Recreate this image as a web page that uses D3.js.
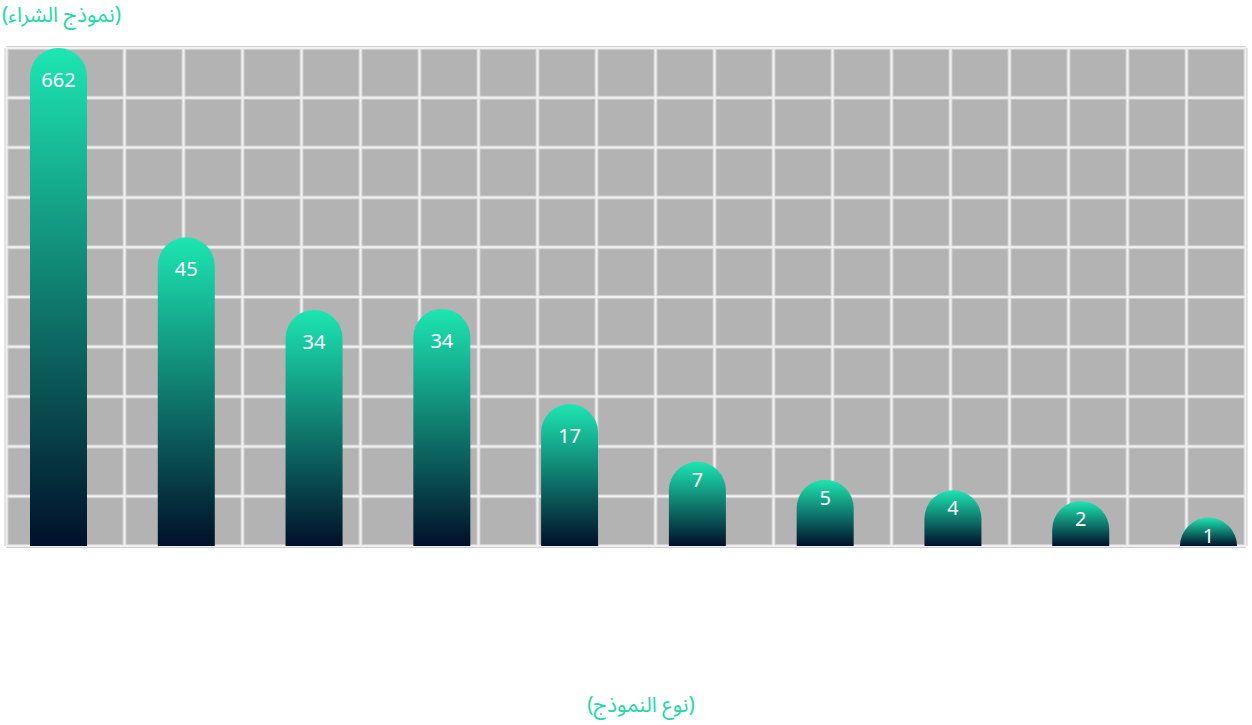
<!DOCTYPE html>
<html>
<head>
<meta charset="utf-8">
<script src="https://cdn.jsdelivr.net/npm/d3@7"></script>
<style>
  html, body { margin: 0; padding: 0; background: #ffffff; }
  svg { display: block; }
</style>
</head>
<body>
<svg id="chart" width="1252" height="725"></svg>
<script>
// ---- data ----
const categories = ["1", "2", "3", "4", "5", "6", "7", "8", "9", "10"];
const labelValues = [662, 45, 34, 34, 17, 7, 5, 4, 2, 1];
// bar heights as read on the hidden value axis (0–10 grid units)
const barHeights = [10.0, 6.2, 4.74, 4.76, 2.85, 1.69, 1.33, 1.12, 0.9, 0.57];
const yTicks = [0, 1, 2, 3, 4, 5, 6, 7, 8, 9, 10];
const xGridCount = 21;
const yTitle = "(نموذج الشراء)";
const xTitle = "(نوع النموذج)";

// ---- layout ----
const W = 1252, H = 725;
const plot = { left: 6.5, right: 1245.5, top: 48, bottom: 546 };
const barW = 57;

const svg = d3.select("#chart");

const x = d3.scalePoint().domain(categories).range([58.5, 1208.5]);
const y = d3.scaleLinear().domain([0, 10]).range([plot.bottom, plot.top]);
const xGrid = d3.scaleLinear().domain([0, xGridCount]).range([plot.left, plot.right]);

const defs = svg.append("defs");
const grad = defs.append("linearGradient")
  .attr("id", "barGrad").attr("x1", 0).attr("y1", 0).attr("x2", 0).attr("y2", 1);
grad.append("stop").attr("offset", "0%").attr("stop-color", "#1de6b2");
grad.append("stop").attr("offset", "100%").attr("stop-color", "#01102a");

// plot background
svg.append("rect")
  .attr("x", plot.left).attr("y", plot.top)
  .attr("width", plot.right - plot.left).attr("height", plot.bottom - plot.top)
  .attr("fill", "#b3b3b3");

// grid
const grid = svg.append("g");
const xs = d3.range(xGridCount + 1);
[["#cfcfcf", 4], ["#f0f0f0", 2]].forEach(([c, w]) => {
  grid.selectAll(null).data(yTicks).enter().append("line")
    .attr("x1", plot.left).attr("x2", plot.right)
    .attr("y1", d => y(d)).attr("y2", d => y(d))
    .attr("stroke", c).attr("stroke-width", w);
  grid.selectAll(null).data(xs).enter().append("line")
    .attr("y1", plot.top).attr("y2", plot.bottom)
    .attr("x1", d => xGrid(d)).attr("x2", d => xGrid(d))
    .attr("stroke", c).attr("stroke-width", w);
});

// bars with rounded tops
function barPath(cx, top, bottom) {
  const r = barW / 2;
  const h = bottom - top;
  const ry = Math.min(r, h);
  const x0 = cx - r, x1 = cx + r;
  return `M${x0},${bottom} L${x0},${top + ry} A${r},${ry} 0 0 1 ${x1},${top + ry} L${x1},${bottom} Z`;
}

const data = categories.map((c, i) => ({ c, v: labelValues[i], h: barHeights[i] }));

svg.append("g").selectAll("path").data(data).enter().append("path")
  .attr("d", d => barPath(x(d.c), y(d.h), y(0)))
  .attr("fill", "url(#barGrad)");

svg.append("g").selectAll("text").data(data).enter().append("text")
  .attr("x", d => x(d.c))
  .attr("y", d => {
    const top = y(d.h), h = y(0) - top;
    return top + (h >= 120 ? 32 : 18);
  })
  .attr("dy", "0.36em")
  .attr("text-anchor", "middle")
  .attr("fill", "#ffffff")
  .attr("font-family", "'Noto Sans', 'Open Sans', sans-serif")
  .attr("font-size", 20)
  .text(d => d.v);

// axis titles
const arFont = "'Noto Sans Arabic', 'Noto Sans', 'DejaVu Sans', sans-serif";
svg.append("text")
  .attr("x", 2).attr("y", 15).attr("dy", "0.35em")
  .attr("text-anchor", "start")
  .attr("fill", "#1ed9a8")
  .attr("font-family", arFont).attr("font-size", 21)
  .text(yTitle);

svg.append("text")
  .attr("x", 641).attr("y", 705).attr("dy", "0.35em")
  .attr("text-anchor", "middle")
  .attr("fill", "#1ed9a8")
  .attr("font-family", arFont).attr("font-size", 21)
  .text(xTitle);
</script>
</body>
</html>
